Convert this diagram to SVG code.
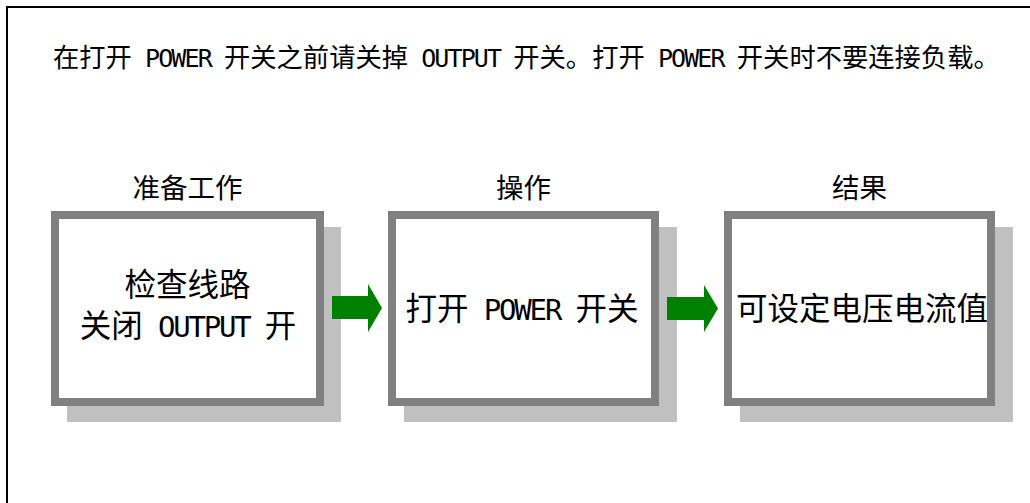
<svg xmlns="http://www.w3.org/2000/svg" width="1030" height="503" viewBox="0 0 1030 503">
<style>
.cjk{font-family:"Noto Sans CJK SC","Noto Sans",sans-serif;fill:#000}
.lat{font-family:"DejaVu Sans Mono","Liberation Mono",monospace}
.tl{font-size:25px;letter-spacing:-1.9px}
.bl{font-size:29px;letter-spacing:-2.2px}
.title{font-size:26.3px}
.lab{font-size:27.5px;text-anchor:middle}
.body{font-size:31.5px;text-anchor:middle}
.shadow{fill:#c0c0c0}
.frame{fill:#fff;stroke:#808080;stroke-width:8}
.arrow{fill:#008000}
</style>
<rect width="1030" height="503" fill="#fff"/>
<path d="M7,503 V7 H1030" fill="none" stroke="#000" stroke-width="2"/>
<text class="cjk title" x="53" y="67">在打开<tspan class="lat tl"> POWER </tspan>开关之前请关掉<tspan class="lat tl"> OUTPUT </tspan>开关。打开<tspan class="lat tl"> POWER </tspan>开关时不要连接负载。</text>
<g id="node-prepare">
<text class="cjk lab" x="187.5" y="198">准备工作</text>
<rect class="shadow" x="67" y="227" width="274" height="195"/>
<rect class="frame" x="55" y="215" width="265" height="187"/>
<text class="cjk body" x="187.5" y="296">检查线路</text>
<text class="cjk body" x="188" y="337">关闭<tspan class="lat bl"> OUTPUT </tspan>开</text>
</g>
<g id="node-operate">
<text class="cjk lab" x="523.5" y="198">操作</text>
<rect class="shadow" x="404" y="227" width="273" height="195"/>
<rect class="frame" x="392" y="215" width="263" height="187"/>
<text class="cjk body" x="522" y="320">打开<tspan class="lat bl"> POWER </tspan>开关</text>
</g>
<g id="node-result">
<text class="cjk lab" x="859.5" y="198">结果</text>
<rect class="shadow" x="740" y="227" width="273" height="195"/>
<rect class="frame" x="728" y="215" width="263" height="187"/>
<text class="cjk body" x="862" y="320">可设定电压电流值</text>
</g>
<g id="connectors">
<polygon class="arrow" points="332,296 368,296 368,284 382,308 368,332 368,319 332,319"/>
<polygon class="arrow" points="667,297 704,297 704,285 718,308.5 704,332 704,320 667,320"/>
</g>
</svg>
